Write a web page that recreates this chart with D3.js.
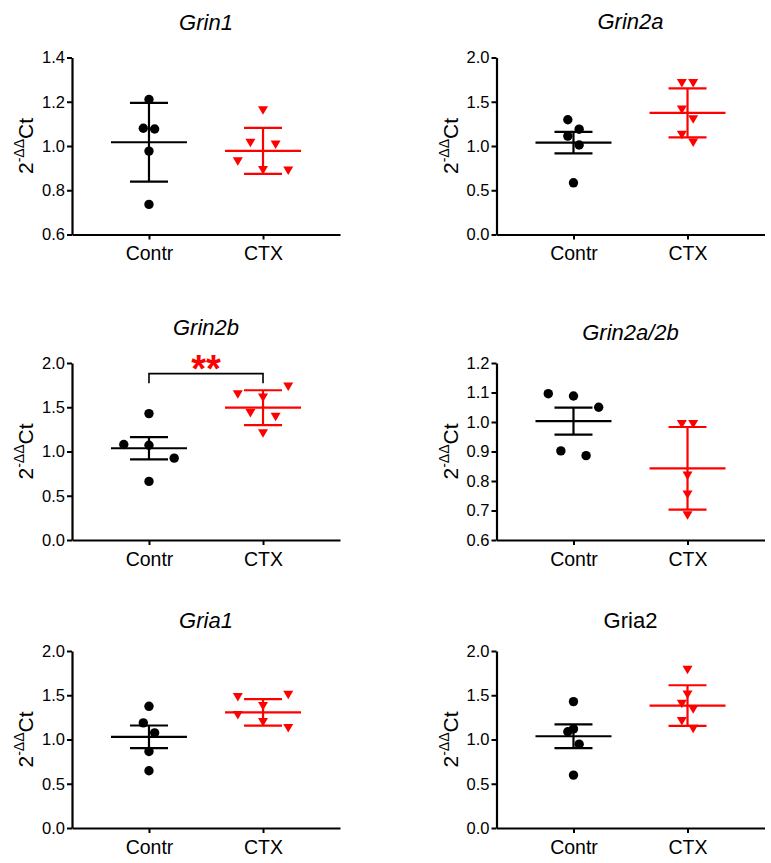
<!DOCTYPE html>
<html>
<head>
<meta charset="utf-8">
<script src="https://cdn.jsdelivr.net/npm/d3@7"></script>
<style>
  html, body { margin: 0; padding: 0; background: #fff; }
  svg { display: block; font-family: Arial, "Liberation Sans", sans-serif; }
</style>
</head>
<body>
<svg id="chart" width="771" height="863"></svg>
<script>
// ---------------- DATA ----------------
const categories = ["Contr", "CTX"];
const titles = ["Grin1", "Grin2a", "Grin2b", "Grin2a/2b", "Gria1", "Gria2"];
const italicTitle = [true, true, true, true, true, false];
const yDomains = [[0.6, 1.4], [0, 2], [0, 2], [0.6, 1.2], [0, 2], [0, 2]];
const yTickSteps = [0.2, 0.5, 0.5, 0.1, 0.5, 0.5];

const contrValues = [
  [1.21, 1.08, 1.077, 0.977, 0.736],
  [1.297, 1.19, 1.112, 1.011, 0.584],
  [1.428, 1.079, 1.071, 0.925, 0.662],
  [1.096, 1.088, 1.05, 0.902, 0.886],
  [1.375, 1.188, 1.075, 0.865, 0.647],
  [1.428, 1.12, 1.087, 0.947, 0.598]
];
// horizontal scatter lane of each point (as laid out in the original)
const contrLanes = [
  [0, -0.45, 0.45, 0, 0],
  [-0.45, 0.45, -0.45, 0.45, 0],
  [0, -2, 0, 2, 0],
  [-2, 0, 2, -1, 1],
  [0, -0.45, 0.45, 0, 0],
  [0, 0, -0.45, 0.45, 0]
];
const ctxValues = [
  [1.16, 1.014, 1.006, 0.93, 0.89, 0.888],
  [1.708, 1.708, 1.409, 1.3, 1.124, 1.038],
  [1.732, 1.645, 1.608, 1.431, 1.39, 1.203],
  [0.992, 0.992, 0.818, 0.753, 0.683],
  [1.503, 1.476, 1.375, 1.274, 1.195, 1.127],
  [1.786, 1.507, 1.402, 1.338, 1.206, 1.12]
];
const ctxLanes = [
  [0, -1, 1, -2, 0, 2],
  [-0.45, 0.45, -0.45, 0.45, -0.45, 0.45],
  [2, -2, 0, -1, 1, 0],
  [-0.45, 0.45, 0, 0, 0],
  [2, -2, 0, -2, 0, 2],
  [0, 0, -0.45, 0.45, -0.45, 0.45]
];
const contrMean = [1.017, 1.038, 1.037, 1.003, 1.03, 1.037];
const contrErr  = [0.178, 0.121, 0.126, 0.046, 0.128, 0.135];
const ctxMean   = [0.978, 1.375, 1.495, 0.843, 1.307, 1.383];
const ctxErr    = [0.104, 0.277, 0.197, 0.140, 0.150, 0.230];

const sigLabels = ["", "", "**", "", "", ""];
const sigBracketTop = [null, null, 1.88, null, null, null];
const sigBracketLeg = [null, null, 1.77, null, null, null];

// ---------------- LAYOUT ----------------
const panelOrigins = [[72, 57.5], [496.5, 57.5], [72, 363], [496.5, 363], [72, 651], [496.5, 651]];
const titleOffsets = [-27.5, -28.5, -28, -23, -23, -23];
const plotW = 268, plotH = 177;
const laneUnit = 12.6;
const colors = { Contr: "#000000", CTX: "#ff0000" };

const svg = d3.select("#chart");
const fmt = d3.format(".1f");

const x = d3.scalePoint().domain(categories).range([0, plotW]).padding(0.675);
const laneX = d3.scaleLinear().domain([-1, 1]).range([-laneUnit, laneUnit]);

function trianglePath(w, h) {
  const p = d3.path();
  p.moveTo(-w / 2, -h / 2);
  p.lineTo(w / 2, -h / 2);
  p.lineTo(0, h / 2);
  p.closePath();
  return p.toString();
}
const triD = trianglePath(10, 8.5);

titles.forEach((title, i) => {
  const [ox, oy] = panelOrigins[i];
  const g = svg.append("g").attr("transform", `translate(${ox},${oy})`);
  const [d0, d1] = yDomains[i];
  const y = d3.scaleLinear().domain([d0, d1]).range([plotH, 0]);
  const nT = Math.round((d1 - d0) / yTickSteps[i]);
  const tickVals = d3.range(0, nT + 1).map(k => d0 + k * yTickSteps[i]);

  // title
  g.append("text")
    .attr("x", plotW / 2)
    .attr("y", titleOffsets[i])
    .attr("text-anchor", "middle")
    .attr("font-size", 22)
    .attr("font-style", italicTitle[i] ? "italic" : "normal")
    .attr("fill", "#000")
    .text(title);

  // y axis
  const ya = g.append("g")
    .call(d3.axisLeft(y).tickValues(tickVals).tickFormat(fmt).tickSize(5).tickSizeOuter(0).tickPadding(2));
  ya.select(".domain").attr("stroke", "#000").attr("stroke-width", 2.2);
  ya.selectAll(".tick line").attr("stroke", "#000").attr("stroke-width", 2);
  ya.selectAll(".tick text").attr("font-size", 16.5).attr("fill", "#000")
    .attr("font-family", "Arial, 'Liberation Sans', sans-serif");

  // x axis
  const xa = g.append("g").attr("transform", `translate(0,${plotH})`)
    .call(d3.axisBottom(x).tickSize(5).tickSizeOuter(0).tickPadding(7));
  xa.select(".domain").attr("stroke", "#000").attr("stroke-width", 2.2);
  xa.selectAll(".tick line").attr("stroke", "#000").attr("stroke-width", 2);
  xa.selectAll(".tick text").attr("font-size", 19.5).attr("fill", "#000")
    .attr("font-family", "Arial, 'Liberation Sans', sans-serif");

  // y label 2^-ΔΔCt
  const yl = g.append("text")
    .attr("transform", `translate(-39,${plotH / 2}) rotate(-90)`)
    .attr("text-anchor", "middle")
    .attr("font-size", 21)
    .attr("fill", "#000");
  yl.append("tspan").text("2");
  yl.append("tspan").attr("font-size", 14).attr("dy", -9).text("-ΔΔ");
  yl.append("tspan").attr("dy", 9).text("Ct");

  // groups
  const groups = [
    { cat: "Contr", vals: contrValues[i], lanes: contrLanes[i], mean: contrMean[i], err: contrErr[i] },
    { cat: "CTX", vals: ctxValues[i], lanes: ctxLanes[i], mean: ctxMean[i], err: ctxErr[i] }
  ];
  groups.forEach(gr => {
    const cx = x(gr.cat);
    const col = colors[gr.cat];
    const eg = g.append("g").attr("stroke", col).attr("stroke-width", 2.2).attr("fill", "none");
    // mean line
    eg.append("line").attr("x1", cx - 38).attr("x2", cx + 38)
      .attr("y1", y(gr.mean)).attr("y2", y(gr.mean));
    // error vertical
    eg.append("line").attr("x1", cx).attr("x2", cx)
      .attr("y1", y(gr.mean + gr.err)).attr("y2", y(gr.mean - gr.err));
    // caps
    [gr.mean + gr.err, gr.mean - gr.err].forEach(v => {
      eg.append("line").attr("x1", cx - 19).attr("x2", cx + 19)
        .attr("y1", y(v)).attr("y2", y(v));
    });
    // points
    const pts = gr.vals.map((v, k) => ({ v, lane: gr.lanes[k] }));
    if (gr.cat === "Contr") {
      g.selectAll(null).data(pts).enter().append("circle")
        .attr("cx", d => cx + laneX(d.lane))
        .attr("cy", d => y(d.v))
        .attr("r", 4.7)
        .attr("fill", col);
    } else {
      g.selectAll(null).data(pts).enter().append("path")
        .attr("d", triD)
        .attr("transform", d => `translate(${cx + laneX(d.lane)},${y(d.v)})`)
        .attr("fill", col);
    }
  });

  // significance
  if (sigLabels[i]) {
    const x1 = x(categories[0]), x2 = x(categories[1]);
    const yt = y(sigBracketTop[i]), yb = y(sigBracketLeg[i]);
    g.append("path")
      .attr("d", `M${x1},${yb}V${yt}H${x2}V${yb}`)
      .attr("fill", "none").attr("stroke", "#000").attr("stroke-width", 1.6);
    g.append("text")
      .attr("x", (x1 + x2) / 2)
      .attr("y", yt + 8)
      .attr("text-anchor", "middle")
      .attr("font-size", 38)
      .attr("font-weight", "bold")
      .attr("fill", "#ff0000")
      .text(sigLabels[i]);
  }
});
</script>
</body>
</html>
